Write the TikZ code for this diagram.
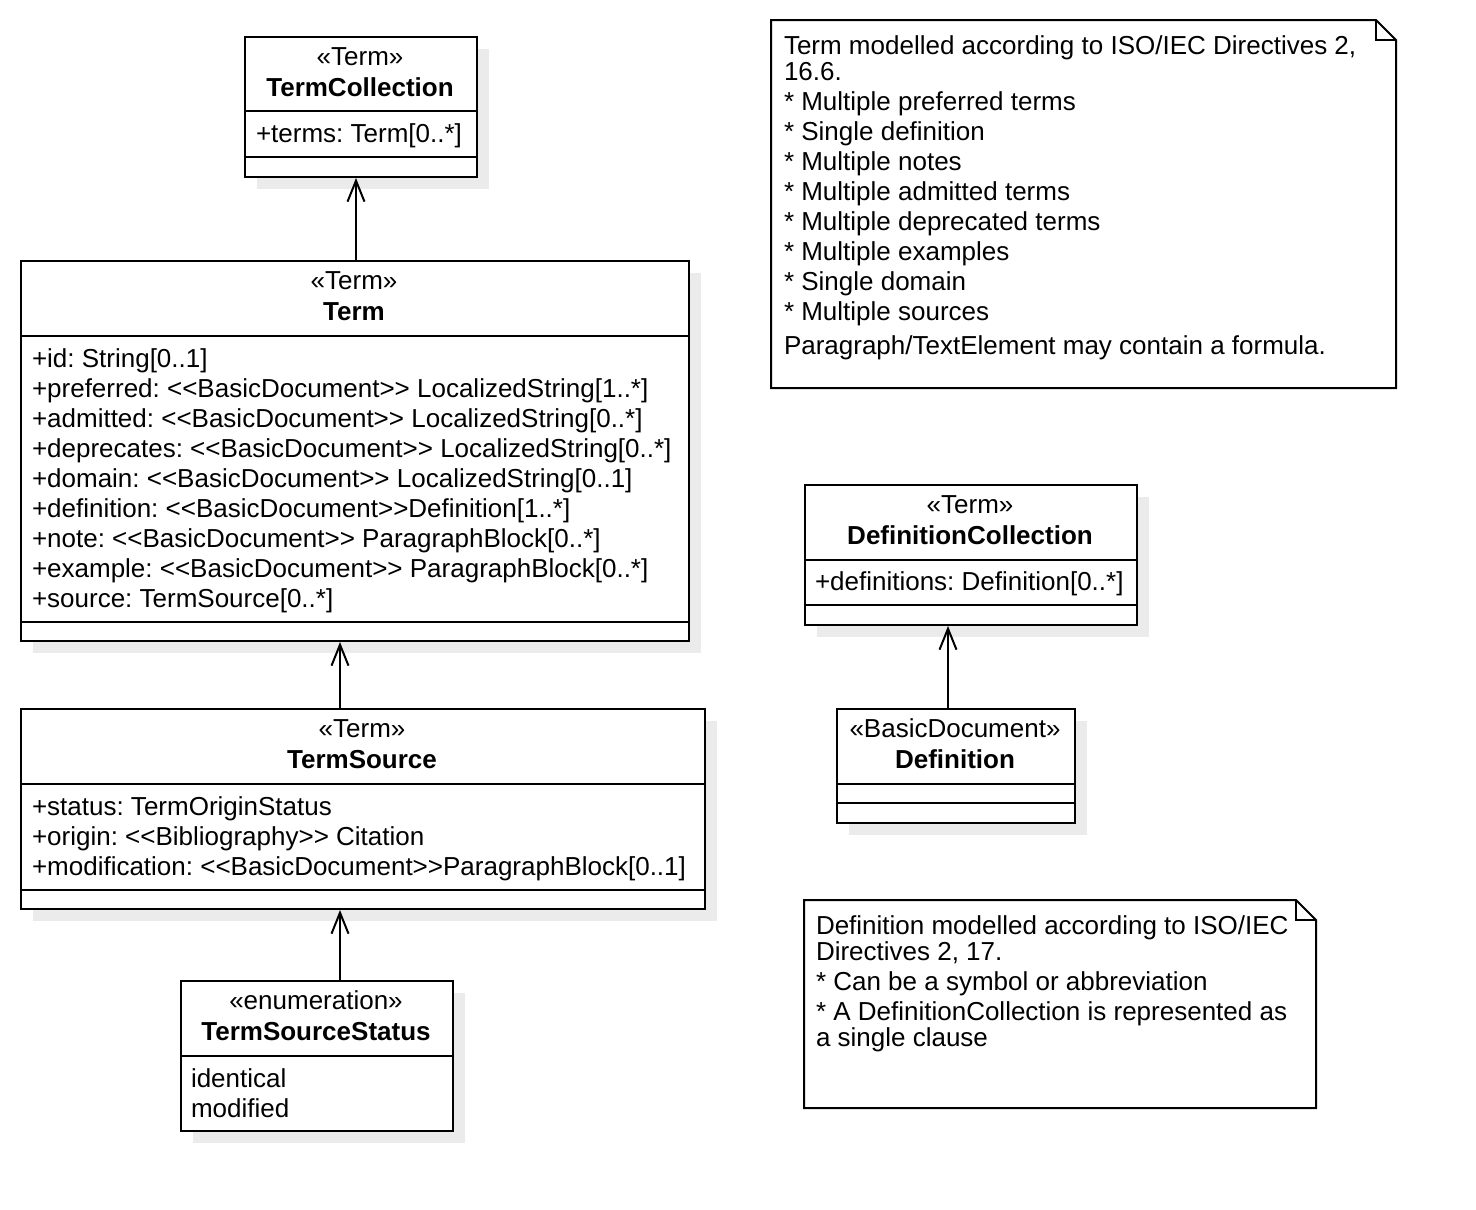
\documentclass[tikz,border=0pt]{standalone}
\usepackage{fontspec}
\setmainfont{Liberation Sans}
\usetikzlibrary{arrows.meta,shadows}
\newcommand{\sttag}[1]{<{}<#1>{}>}
\frenchspacing

\begin{document}
\begin{tikzpicture}[x=1pt,y=-1pt,line width=2pt,
  cls/.style={draw,fill=white,anchor=north west,inner sep=0pt,
    drop shadow={shadow xshift=12pt,shadow yshift=-12pt,fill=black!8,opacity=1}},
  notebox/.style={anchor=north west,inner sep=0pt},
  stereo/.style={anchor=base,inner sep=0pt,font=\fontsize{26}{30}\selectfont},
  cname/.style={anchor=base,inner sep=0pt,font=\fontsize{26}{30}\selectfont\bfseries},
  attrs/.style={anchor=base west,inner sep=0pt,align=left,font=\fontsize{26}{30}\selectfont},
  notetext/.style={anchor=north west,inner sep=0pt,align=left,font=\fontsize{26}{26}\selectfont},
  assoc/.style={-{Straight Barb[length=21pt,width=17pt]}}]
\useasboundingbox (0,0) rectangle (1476,1210);

% classes (attrs anchored at the baseline of their last line)
\node[cls,minimum width=232,minimum height=140] (tc) at (244,36) {};
\node[stereo] (tcS) at (360,65) {«Term»};
\node[cname] (tcN) at (360,96) {TermCollection};
\node[attrs] (tcA) at (255,142) {+terms: Term[0..*]};
\draw (tc.west |- 0,111) -- (tc.east |- 0,111);
\draw (tc.west |- 0,157) -- (tc.east |- 0,157);

\node[cls,minimum width=668,minimum height=380] (term) at (20,260) {};
\node[stereo] (termS) at (354,289) {«Term»};
\node[cname] (termN) at (354,320) {Term};
\node[attrs] (termA) at (31,607) {+id: String[0..1]\\
  +preferred: \sttag{BasicDocument} LocalizedString[1..*]\\
  +admitted: \sttag{BasicDocument} LocalizedString[0..*]\\
  +deprecates: \sttag{BasicDocument} LocalizedString[0..*]\\
  +domain: \sttag{BasicDocument} LocalizedString[0..1]\\
  +definition: \sttag{BasicDocument}Definition[1..*]\\
  +note: \sttag{BasicDocument} ParagraphBlock[0..*]\\
  +example: \sttag{BasicDocument} ParagraphBlock[0..*]\\
  +source: TermSource[0..*]};
\draw (term.west |- 0,336) -- (term.east |- 0,336);
\draw (term.west |- 0,622) -- (term.east |- 0,622);

\node[cls,minimum width=684,minimum height=200] (ts) at (20,708) {};
\node[stereo] (tsS) at (362,737) {«Term»};
\node[cname] (tsN) at (362,768) {TermSource};
\node[attrs] (tsA) at (31,875) {+status: TermOriginStatus\\
  +origin: \sttag{Bibliography} Citation\\
  +modification: \sttag{BasicDocument}ParagraphBlock[0..1]};
\draw (ts.west |- 0,784) -- (ts.east |- 0,784);
\draw (ts.west |- 0,890) -- (ts.east |- 0,890);

\node[cls,minimum width=272,minimum height=150] (tss) at (180,980) {};
\node[stereo] (tssS) at (316,1009) {«enumeration»};
\node[cname] (tssN) at (316,1040) {TermSourceStatus};
\node[attrs] (tssA) at (190,1117) {identical\\modified};
\draw (tss.west |- 0,1056) -- (tss.east |- 0,1056);

\node[cls,minimum width=332,minimum height=140] (dc) at (804,484) {};
\node[stereo] (dcS) at (970,513) {«Term»};
\node[cname] (dcN) at (970,544) {DefinitionCollection};
\node[attrs] (dcA) at (814,590) {+definitions: Definition[0..*]};
\draw (dc.west |- 0,560) -- (dc.east |- 0,560);
\draw (dc.west |- 0,605) -- (dc.east |- 0,605);

\node[cls,minimum width=238,minimum height=114] (def) at (836,708) {};
\node[stereo] (defS) at (955,737) {«BasicDocument»};
\node[cname] (defN) at (955,768) {Definition};
\draw (def.west |- 0,784) -- (def.east |- 0,784);
\draw (def.west |- 0,803) -- (def.east |- 0,803);

% associations
\draw[assoc] (term.north -| 356,0) -- (tc.south -| 356,0);
\draw[assoc] (ts.north -| 340,0) -- (term.south -| 340,0);
\draw[assoc] (tss.north -| 340,0) -- (ts.south -| 340,0);
\draw[assoc] (def.north -| 948,0) -- (dc.south -| 948,0);

% notes
\node[notebox,minimum width=623,minimum height=366] (note1) at (771,20) {};
\draw[fill=white] (note1.north west) -- ([xshift=-20pt]note1.north east)
  -- ([yshift=-20pt]note1.north east) -- (note1.south east) -- (note1.south west) -- cycle;
\draw ([xshift=-20pt]note1.north east) -- ([xshift=-20pt,yshift=-20pt]note1.north east)
  -- ([yshift=-20pt]note1.north east);
\node[notetext] (note1T) at (783,35) {Term modelled according to ISO/IEC Directives 2,\\
  16.6.\\[4pt]
  * Multiple preferred terms\\[4pt]
  * Single definition\\[4pt]
  * Multiple notes\\[4pt]
  * Multiple admitted terms\\[4pt]
  * Multiple deprecated terms\\[4pt]
  * Multiple examples\\[4pt]
  * Single domain\\[4pt]
  * Multiple sources\\[8pt]
  Paragraph/TextElement may contain a formula.};

\node[notebox,minimum width=510,minimum height=206] (note2) at (804,900) {};
\draw[fill=white] (note2.north west) -- ([xshift=-20pt]note2.north east)
  -- ([yshift=-20pt]note2.north east) -- (note2.south east) -- (note2.south west) -- cycle;
\draw ([xshift=-20pt]note2.north east) -- ([xshift=-20pt,yshift=-20pt]note2.north east)
  -- ([yshift=-20pt]note2.north east);
\node[notetext] (note2T) at (815,915) {Definition modelled according to ISO/IEC\\
  Directives 2, 17.\\[4pt]
  * Can be a symbol or abbreviation\\[4pt]
  * A DefinitionCollection is represented as\\
  a single clause};
\end{tikzpicture}
\end{document}
